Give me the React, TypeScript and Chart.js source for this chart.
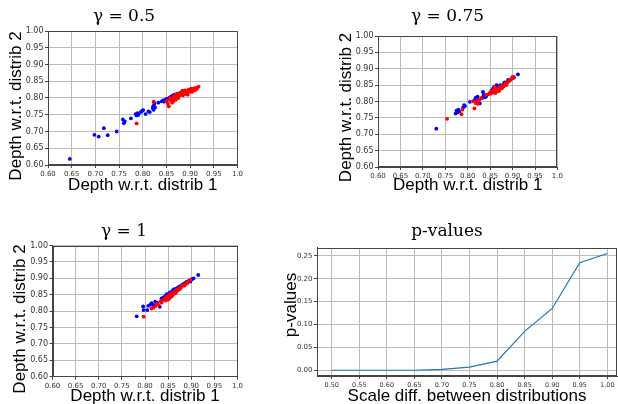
import React, { useEffect, useRef } from "react";
import { Chart, registerables } from "chart.js";

Chart.register(...registerables);

// ---------- data ----------
const DEPTH_TICKS = [0.6, 0.65, 0.7, 0.75, 0.8, 0.85, 0.9, 0.95, 1.0];
const DEPTH_X_LABELS = ["0.60", "0.65", "0.70", "0.75", "0.80", "0.85", "0.90", "0.95", "1.0"];
const DEPTH_Y_LABELS = ["0.60", "0.65", "0.70", "0.75", "0.80", "0.85", "0.90", "0.95", "1.00"];

const SCALE_DIFF = [0.5, 0.55, 0.6, 0.65, 0.7, 0.75, 0.8, 0.85, 0.9, 0.95, 1.0];
const P_VALUES = [0, 0, 0, 0, 0.002, 0.007, 0.02, 0.085, 0.135, 0.235, 0.255];
const P_X_LABELS = ["0.50", "0.55", "0.60", "0.65", "0.70", "0.75", "0.80", "0.85", "0.90", "0.95", "1.00"];
const P_Y_TICKS = [0, 0.05, 0.1, 0.15, 0.2, 0.25];
const P_Y_LABELS = ["0.00", "0.05", "0.10", "0.15", "0.20", "0.25"];

const G05_BLUE = [
  [0.646, 0.618], [0.698, 0.69], [0.707, 0.685], [0.718, 0.71], [0.726, 0.689], [0.745, 0.7],
  [0.758, 0.736], [0.76, 0.725], [0.762, 0.73], [0.775, 0.739], [0.785, 0.752], [0.787, 0.748],
  [0.789, 0.755], [0.791, 0.75], [0.796, 0.758], [0.799, 0.762], [0.801, 0.764], [0.806, 0.752],
  [0.812, 0.76], [0.815, 0.758], [0.821, 0.77], [0.822, 0.775], [0.823, 0.765], [0.824, 0.78],
  [0.825, 0.785], [0.826, 0.772], [0.833, 0.786], [0.84, 0.79], [0.843, 0.793], [0.845, 0.789],
  [0.848, 0.795], [0.851, 0.797], [0.856, 0.801], [0.859, 0.803], [0.862, 0.806], [0.866, 0.81],
  [0.869, 0.806], [0.872, 0.812], [0.878, 0.808], [0.884, 0.812], [0.889, 0.815], [0.893, 0.818],
  [0.901, 0.822], [0.905, 0.824], [0.909, 0.827], [0.913, 0.828],
];
const G05_RED = [
  [0.787, 0.724], [0.823, 0.789], [0.85, 0.79], [0.853, 0.783], [0.855, 0.775], [0.856, 0.795],
  [0.858, 0.8], [0.86, 0.792], [0.862, 0.786], [0.864, 0.798], [0.866, 0.805], [0.868, 0.809],
  [0.87, 0.795], [0.872, 0.803], [0.874, 0.812], [0.876, 0.808], [0.878, 0.815], [0.88, 0.81],
  [0.882, 0.818], [0.884, 0.822], [0.885, 0.808], [0.886, 0.819], [0.888, 0.815], [0.889, 0.823],
  [0.891, 0.812], [0.892, 0.82], [0.894, 0.816], [0.896, 0.824], [0.898, 0.819], [0.899, 0.826],
  [0.901, 0.822], [0.903, 0.828], [0.904, 0.818], [0.906, 0.825], [0.908, 0.829], [0.91, 0.823],
  [0.912, 0.83], [0.914, 0.827], [0.916, 0.832], [0.918, 0.834], [0.865, 0.79], [0.875, 0.8],
  [0.895, 0.81],
];

const G075_BLUE = [
  [0.73, 0.717], [0.773, 0.763], [0.775, 0.772], [0.777, 0.767], [0.779, 0.775], [0.781, 0.769],
  [0.79, 0.782], [0.792, 0.789], [0.794, 0.786], [0.805, 0.799], [0.816, 0.806], [0.818, 0.812],
  [0.819, 0.803], [0.821, 0.809], [0.822, 0.815], [0.827, 0.794], [0.832, 0.811], [0.834, 0.829],
  [0.835, 0.817], [0.836, 0.822], [0.838, 0.813], [0.841, 0.815], [0.853, 0.833], [0.856, 0.838],
  [0.858, 0.843], [0.86, 0.835], [0.862, 0.845], [0.864, 0.85], [0.866, 0.846], [0.868, 0.842],
  [0.87, 0.848], [0.873, 0.85], [0.877, 0.845], [0.88, 0.853], [0.882, 0.858], [0.885, 0.852],
  [0.888, 0.86], [0.89, 0.866], [0.892, 0.862], [0.899, 0.871], [0.903, 0.874], [0.912, 0.883],
];
const G075_RED = [
  [0.754, 0.747], [0.786, 0.761], [0.788, 0.775], [0.812, 0.801], [0.815, 0.779], [0.818, 0.795],
  [0.82, 0.8], [0.823, 0.793], [0.826, 0.805], [0.83, 0.81], [0.841, 0.82], [0.846, 0.822],
  [0.849, 0.826], [0.851, 0.824], [0.853, 0.83], [0.855, 0.827], [0.857, 0.835], [0.86, 0.83],
  [0.862, 0.826], [0.864, 0.838], [0.866, 0.832], [0.868, 0.84], [0.87, 0.836], [0.872, 0.845],
  [0.874, 0.843], [0.876, 0.84], [0.878, 0.848], [0.88, 0.846], [0.882, 0.851], [0.884, 0.855],
  [0.886, 0.85], [0.888, 0.857], [0.89, 0.86], [0.893, 0.864], [0.895, 0.866], [0.898, 0.87],
  [0.9, 0.875], [0.902, 0.872], [0.86, 0.845], [0.87, 0.832],
];

const G1_BLUE = [
  [0.782, 0.784], [0.796, 0.814], [0.797, 0.803], [0.805, 0.803], [0.807, 0.816], [0.812, 0.82],
  [0.814, 0.824], [0.818, 0.819], [0.822, 0.829], [0.826, 0.826], [0.832, 0.813], [0.836, 0.839],
  [0.84, 0.842], [0.844, 0.846], [0.847, 0.852], [0.85, 0.849], [0.852, 0.855], [0.855, 0.858],
  [0.858, 0.857], [0.86, 0.862], [0.862, 0.866], [0.864, 0.86], [0.866, 0.868], [0.868, 0.865],
  [0.87, 0.87], [0.872, 0.873], [0.874, 0.869], [0.876, 0.876], [0.878, 0.874], [0.88, 0.879],
  [0.882, 0.881], [0.884, 0.884], [0.886, 0.882], [0.888, 0.887], [0.89, 0.889], [0.892, 0.886],
  [0.894, 0.891], [0.896, 0.893], [0.898, 0.89], [0.9, 0.896], [0.902, 0.898], [0.905, 0.9],
  [0.915, 0.91],
];
const G1_RED = [
  [0.797, 0.783], [0.814, 0.808], [0.818, 0.81], [0.822, 0.815], [0.826, 0.822], [0.83, 0.818],
  [0.834, 0.83], [0.836, 0.826], [0.84, 0.834], [0.844, 0.838], [0.846, 0.843], [0.848, 0.84],
  [0.85, 0.845], [0.851, 0.836], [0.852, 0.85], [0.853, 0.84], [0.854, 0.847], [0.855, 0.843],
  [0.856, 0.853], [0.857, 0.848], [0.858, 0.845], [0.86, 0.855], [0.862, 0.852], [0.864, 0.858],
  [0.866, 0.862], [0.868, 0.859], [0.87, 0.866], [0.872, 0.864], [0.874, 0.87], [0.876, 0.868],
  [0.878, 0.873], [0.88, 0.876], [0.883, 0.88], [0.886, 0.878], [0.889, 0.884], [0.892, 0.888],
  [0.895, 0.892], [0.898, 0.895], [0.866, 0.855], [0.845, 0.832],
];

// ---------- styles ----------
const GRID = "#bbbbbb";
const SPINE = "#444444";
const TICK_TEXT = "#333333";
const SANS = "'Liberation Sans', Arial, sans-serif";
const SERIF = "'DejaVu Serif', serif";
const TICK_FONT = "'DejaVu Sans', sans-serif";

const framePlugin = {
  id: "frame",
  afterDraw(chart: any) {
    const { ctx, chartArea } = chart;
    const l = Math.round(chartArea.left) + 0.5;
    const t = Math.round(chartArea.top) + 0.5;
    const r = Math.round(chartArea.right) - 0.5;
    const b = Math.round(chartArea.bottom) - 0.5;
    ctx.save();
    ctx.strokeStyle = SPINE;
    ctx.lineWidth = 1;
    ctx.strokeRect(l, t, r - l, b - t);
    ctx.restore();
  },
};

const pts = (arr: number[][]) => arr.map(([x, y]) => ({ x, y }));
const scatterSets = (red: number[][], blue: number[][]) => [
  { data: pts(red), backgroundColor: "#ff0000", borderWidth: 0, pointRadius: 1.9 },
  { data: pts(blue), backgroundColor: "#0000ff", borderWidth: 0, pointRadius: 1.9 },
];

type Panel = {
  left: number; top: number; width: number; height: number;
  title: string; titlePad: [number, number];
  yLabel: string; yLabelPad: number; yAxisWidth: number; rightWidth: number;
  xLabel: string; xAxisHeight: number; xLabelPad: number;
  xMin: number; xMax: number; yMin: number; yMax: number;
  xTicks: number[]; xLabels: string[]; yTicks: number[]; yLabels: string[];
  xTickSize: number; yTickSize: number;
  kind: "scatter" | "line";
  datasets: any[];
};

// y-label box uses a compact line height (10.2px) so the y tick labels fit in the scale box
const PANELS: Panel[] = [
  {
    left: 0, top: 0, width: 248, height: 212,
    title: "γ = 0.5", titlePad: [6.3, 4.3],
    yLabel: "Depth w.r.t. distrib 2", yLabelPad: 11.2, yAxisWidth: 26.6, rightWidth: 10.5,
    xLabel: "Depth w.r.t. distrib 1", xAxisHeight: 47, xLabelPad: 16.8,
    xMin: 0.6, xMax: 1.0, yMin: 0.6, yMax: 1.0,
    xTicks: DEPTH_TICKS, xLabels: DEPTH_X_LABELS, yTicks: DEPTH_TICKS, yLabels: DEPTH_Y_LABELS,
    xTickSize: 7, yTickSize: 8, kind: "scatter",
    datasets: scatterSets(G05_RED, G05_BLUE),
  },
  {
    left: 330, top: 0, width: 235, height: 215,
    title: "γ = 0.75", titlePad: [6.3, 9.3],
    yLabel: "Depth w.r.t. distrib 2", yLabelPad: 11.4, yAxisWidth: 26.4, rightWidth: 4,
    xLabel: "Depth w.r.t. distrib 1", xAxisHeight: 48, xLabelPad: 19.8,
    xMin: 0.6, xMax: 1.0, yMin: 0.6, yMax: 1.0,
    xTicks: DEPTH_TICKS, xLabels: DEPTH_X_LABELS, yTicks: DEPTH_TICKS, yLabels: DEPTH_Y_LABELS,
    xTickSize: 7, yTickSize: 8, kind: "scatter",
    datasets: scatterSets(G075_RED, G075_BLUE),
  },
  {
    left: 0, top: 210, width: 248, height: 218,
    title: "γ = 1", titlePad: [11.8, 3.3],
    yLabel: "Depth w.r.t. distrib 2", yLabelPad: 15.4, yAxisWidth: 26.9, rightWidth: 10.5,
    xLabel: "Depth w.r.t. distrib 1", xAxisHeight: 51.3, xLabelPad: 21.8,
    xMin: 0.6, xMax: 1.0, yMin: 0.6, yMax: 1.0,
    xTicks: DEPTH_TICKS, xLabels: DEPTH_X_LABELS, yTicks: DEPTH_TICKS, yLabels: DEPTH_Y_LABELS,
    xTickSize: 7, yTickSize: 8, kind: "scatter",
    datasets: scatterSets(G1_RED, G1_BLUE),
  },
  {
    left: 270, top: 200, width: 354, height: 210,
    title: "p-values", titlePad: [21.8, 5.5],
    yLabel: "p-values", yLabelPad: 16.4, yAxisWidth: 20.4, rightWidth: 7,
    xLabel: "Scale diff. between distributions", xAxisHeight: 33.9, xLabelPad: 3.8,
    xMin: 0.4733, xMax: 1.0176, yMin: -0.01275, yMax: 0.26775,
    xTicks: SCALE_DIFF, xLabels: P_X_LABELS, yTicks: P_Y_TICKS, yLabels: P_Y_LABELS,
    xTickSize: 6.5, yTickSize: 7, kind: "line",
    datasets: [
      {
        data: SCALE_DIFF.map((x, i) => ({ x, y: P_VALUES[i] })),
        borderColor: "#1f77b4", borderWidth: 1.2, pointRadius: 0, fill: false, tension: 0,
      },
    ],
  },
];

function buildConfig(p: Panel): any {
  const grid = { color: GRID, lineWidth: 1, drawTicks: true, tickLength: 3, tickColor: SPINE };
  return {
    type: p.kind,
    data: { datasets: p.datasets },
    options: {
      responsive: false,
      animation: false,
      events: [],
      layout: { padding: 0 },
      plugins: {
        legend: { display: false },
        tooltip: { enabled: false },
        title: {
          display: true, text: p.title, color: "#000",
          font: { family: SERIF, size: 17, weight: "normal", lineHeight: 1.2 },
          padding: { top: p.titlePad[0], bottom: p.titlePad[1] },
        },
        subtitle: {
          display: true, position: "left", text: p.yLabel, color: "#000",
          font: { family: SANS, size: 17, weight: "normal", lineHeight: 0.6 },
          padding: { top: p.yLabelPad, bottom: 0 },
        },
      },
      scales: {
        x: {
          type: "linear", position: "bottom", min: p.xMin, max: p.xMax,
          afterBuildTicks: (s: any) => { s.ticks = p.xTicks.map((v) => ({ value: v })); },
          afterFit: (s: any) => { s.height = p.xAxisHeight; },
          ticks: {
            autoSkip: false, maxRotation: 0, minRotation: 0, padding: 2, color: TICK_TEXT,
            font: { family: TICK_FONT, size: p.xTickSize },
            callback: (_v: any, i: number) => p.xLabels[i],
          },
          grid, border: { display: true, color: SPINE, width: 1 },
          title: {
            display: true, text: p.xLabel, color: "#000",
            font: { family: SANS, size: 17, lineHeight: 1.2 },
            padding: { top: 0, bottom: p.xLabelPad },
          },
        },
        y: {
          type: "linear", position: "left", min: p.yMin, max: p.yMax,
          afterBuildTicks: (s: any) => { s.ticks = p.yTicks.map((v) => ({ value: v })); },
          afterFit: (s: any) => { s.width = p.yAxisWidth; },
          ticks: {
            autoSkip: false, padding: 1.5, color: TICK_TEXT,
            font: { family: TICK_FONT, size: p.yTickSize },
            callback: (_v: any, i: number) => p.yLabels[i],
          },
          grid, border: { display: true, color: SPINE, width: 1 },
        },
        yr: {
          type: "linear", position: "right", display: true,
          afterFit: (s: any) => { s.width = p.rightWidth; },
          ticks: { display: false },
          grid: { display: false, drawTicks: false },
          border: { display: false },
        },
      },
    },
    plugins: [framePlugin],
  };
}

export default function App() {
  const refs = useRef<(HTMLCanvasElement | null)[]>([]);

  useEffect(() => {
    const charts = PANELS.map((p, i) => new Chart(refs.current[i] as HTMLCanvasElement, buildConfig(p)));
    return () => charts.forEach((c) => c.destroy());
  }, []);

  return (
    <div
      style={{
        position: "fixed", left: 0, top: 0, width: 618, height: 404,
        overflow: "hidden", background: "#ffffff",
      }}
    >
      {PANELS.map((p, i) => (
        <canvas
          key={i}
          ref={(el) => { refs.current[i] = el; }}
          width={p.width}
          height={p.height}
          style={{ position: "absolute", left: p.left, top: p.top, width: p.width, height: p.height }}
        />
      ))}
    </div>
  );
}
